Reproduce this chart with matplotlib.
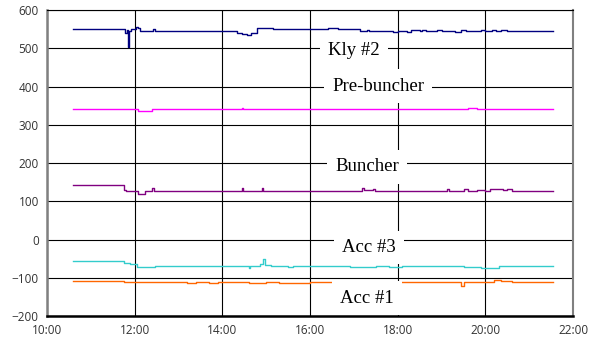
import matplotlib
matplotlib.use("Agg")
import matplotlib.pyplot as plt

# time in hours, value holds until next time (step data)
kly_t = [10.59, 11.78, 11.82, 11.85, 11.87, 11.92, 12.02, 12.08, 12.12, 12.19, 12.42, 12.45,
         14.33, 14.45, 14.55, 14.65, 14.79, 14.95, 15.16, 16.41, 16.64, 17.14,
         17.3, 17.35, 17.6, 17.65, 17.9, 18.0, 18.2, 18.3, 18.5, 18.55, 18.65, 18.9, 19.0,
         19.2, 19.3, 19.45, 19.55, 19.7, 19.9, 20.0, 20.15, 20.25, 20.35, 20.5, 20.63, 21.54]
kly_v = [550, 540, 548, 502, 545, 550, 556, 553, 546, 544, 550, 544,
         540, 538, 535, 540, 554, 552, 550, 553, 550, 545,
         547, 544, 546, 544, 542, 545, 543, 547, 545, 548, 545, 547, 545,
         546, 543, 547, 544, 545, 548, 546, 548, 544, 547, 544, 545, 545]

pre_t = [10.59, 12.08, 12.40, 14.45, 14.47, 15.35, 15.5, 16.1, 16.2, 17.5, 17.55,
         18.3, 18.4, 19.6, 19.8, 20.2, 20.5, 21.54]
pre_v = [340, 336, 340, 344, 340, 342, 340, 342, 340, 342, 340,
         342, 340, 343, 341, 342, 340, 340]

bun_t = [10.59, 11.76, 11.8, 12.08, 12.24, 12.40, 12.44, 14.45, 14.47, 14.9, 14.92,
         17.19, 17.22, 17.44, 17.47, 19.13, 19.16, 19.4, 19.5, 19.6, 19.8, 20.0, 20.1,
         20.4, 20.5, 20.6, 21.54]
bun_v = [142, 130, 128, 118, 128, 134, 128, 134, 128, 134, 128,
         134, 130, 132, 128, 132, 128, 126, 131, 127, 130, 128, 131,
         129, 132, 128, 128]

acc3_t = [10.59, 11.76, 11.9, 12.05, 12.46, 14.6, 14.62, 14.85, 14.93, 14.97, 15.1,
          15.5, 15.6, 16.3, 16.7, 16.9, 17.5, 17.8, 18.1, 18.5, 19.0, 19.5, 19.9,
          20.3, 20.6, 21.54]
acc3_v = [-55, -62, -64, -72, -70, -73, -70, -65, -51, -66, -69,
          -71, -68, -70, -68, -71, -68, -71, -69, -70, -70, -72, -73,
          -70, -70, -70]

acc1_t = [10.59, 11.76, 12.0, 12.5, 13.2, 13.4, 13.7, 13.9, 14.6, 15.0, 15.3, 16.0,
          16.6, 17.0, 17.5, 18.0, 19.45, 19.5, 20.2, 20.35, 20.6, 20.7, 21.54]
acc1_v = [-108, -112, -110, -112, -114, -110, -114, -110, -113, -110, -113, -111,
          -114, -111, -112, -110, -122, -110, -106, -108, -111, -110, -110]

series = [
    (kly_t, kly_v, "#000080"),
    (pre_t, pre_v, "#ff00ff"),
    (bun_t, bun_v, "#800080"),
    (acc3_t, acc3_v, "#33cccc"),
    (acc1_t, acc1_v, "#ff6600"),
]

labels = ["Kly #2", "Pre-buncher", "Buncher", "Acc #3", "Acc #1"]
label_x = [17.0, 17.55, 17.3, 17.35, 17.3]
label_y = [495, 401, 190, -20, -153]

x_ticks = [10, 12, 14, 16, 18, 20, 22]
x_ticklabels = ["10:00", "12:00", "14:00", "16:00", "18:00", "20:00", "22:00"]
y_ticks = [-200, -100, 0, 100, 200, 300, 400, 500, 600]

fig = plt.figure(figsize=(5.89, 3.44), dpi=100)
ax = fig.add_axes([0.080, 0.081, 0.893, 0.890])

for t, v, c in series:
    ax.plot(t, v, drawstyle="steps-post", color=c, lw=1.0)

for txt, x, y in zip(labels, label_x, label_y):
    ax.text(x, y, txt, ha="center", va="center", fontsize=13.5,
            family="Liberation Serif", color="black", zorder=5,
            bbox=dict(facecolor="white", edgecolor="none", pad=6))

ax.set_xlim(10, 22)
ax.set_ylim(-200, 600)
ax.set_xticks(x_ticks)
ax.set_xticklabels(x_ticklabels)
ax.set_yticks(y_ticks)
ax.grid(True, color="black", lw=0.8)
ax.set_axisbelow(True)
ax.tick_params(length=0, labelsize=8.5, colors="#333333", pad=6)
for lab in ax.get_xticklabels() + ax.get_yticklabels():
    lab.set_family("Open Sans")

ax.spines["left"].set_color("#808080")
ax.spines["left"].set_linewidth(1.8)
ax.spines["bottom"].set_color("black")
ax.spines["bottom"].set_linewidth(1.8)
ax.spines["top"].set_linewidth(0.8)
ax.spines["right"].set_color("#808080")
ax.spines["right"].set_linewidth(1.5)

plt.savefig("out.png", dpi=100)
